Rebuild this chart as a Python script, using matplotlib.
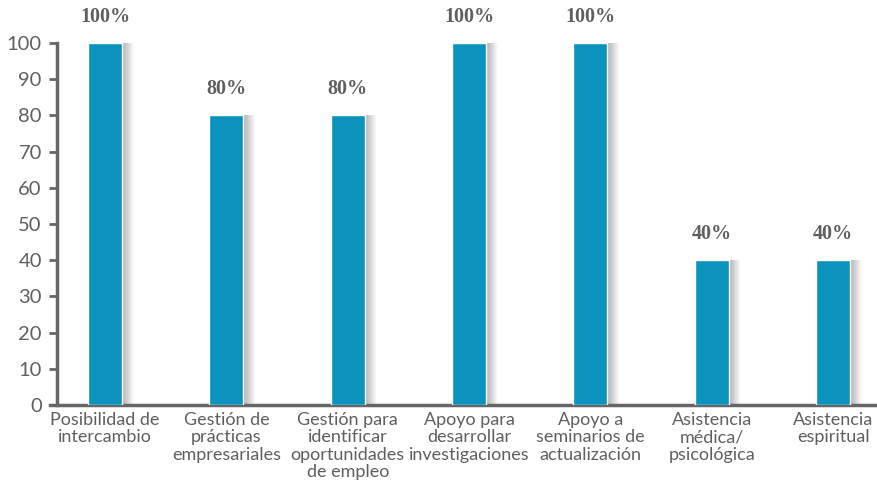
import matplotlib.pyplot as plt
import numpy as np

categories = [
    "Posibilidad de\nintercambio",
    "Gestión de\nprácticas\nempresariales",
    "Gestión para\nidentificar\noportunidades\nde empleo",
    "Apoyo para\ndesarrollar\ninvestigaciones",
    "Apoyo a\nseminarios de\nactualización",
    "Asistencia\nmédica/\npsicológica",
    "Asistencia\nespiritual",
]
values = [100, 80, 80, 100, 100, 40, 40]
value_labels = ["100%", "80%", "80%", "100%", "100%", "40%", "40%"]
yticks = [0, 10, 20, 30, 40, 50, 60, 70, 80, 90, 100]

bar_color = "#0b92bd"
axis_color = "#666666"
text_color = "#5f5f5f"

fig = plt.figure(figsize=(8.78, 4.87), dpi=100)
ax = fig.add_axes([0.065, 0.168, 0.935, 0.744])

x = np.arange(len(values))
width = 0.28

# soft shadow on the right of each bar
for i in range(16):
    off = 0.005 + i * 0.006
    ax.bar(x + off, values, width=width, color="#000000", alpha=0.02,
           zorder=1, linewidth=0)
ax.bar(x, values, width=width, color=bar_color, edgecolor="white",
       linewidth=1.0, zorder=3)

for xi, v, lab in zip(x, values, value_labels):
    ax.text(xi, v + 4.5, lab, ha="center", va="bottom", fontsize=14.5,
            fontweight="bold", family="Liberation Serif", color=text_color,
            clip_on=False)

ax.set_xlim(-0.396, 6.37)
ax.set_ylim(0, 100)
ax.set_yticks(yticks)
ax.set_xticks(x)
ax.set_xticklabels(categories, fontsize=13, color=text_color,
                   family="Lato", linespacing=1.1)
ax.tick_params(axis="x", length=0, pad=5)
ax.tick_params(axis="y", length=6, width=2, color=axis_color,
               labelsize=14.5, labelcolor=text_color, pad=5)
for lab in ax.get_yticklabels():
    lab.set_family("Lato")

for s in ["top", "right"]:
    ax.spines[s].set_visible(False)
for s in ["left", "bottom"]:
    ax.spines[s].set_color(axis_color)
    ax.spines[s].set_linewidth(2.5)
ax.spines["bottom"].set_bounds(-0.456, 6.37)

fig.savefig("out.png", dpi=100)
